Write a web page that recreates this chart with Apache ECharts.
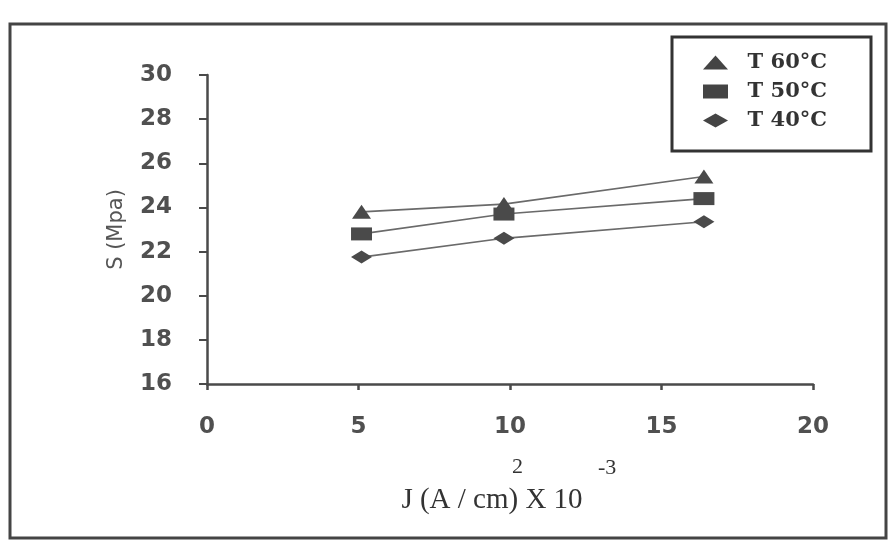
<!DOCTYPE html>
<html>
<head>
<meta charset="utf-8">
<script src="https://cdn.jsdelivr.net/npm/echarts@6/dist/echarts.min.js"></script>
<style>
  html, body { margin: 0; padding: 0; background: #fff; }
  #chart { width: 896px; height: 551px; }
</style>
</head>
<body>
<div id="chart"></div>
<script>
// data
var seriesNames = ['T 60°C', 'T 50°C', 'T 40°C'];
var currentJ = [5.1, 9.8, 16.4];
var s60 = [23.8, 24.15, 25.4];
var s50 = [22.8, 23.7, 24.4];
var s40 = [21.75, 22.6, 23.35];
var yTicks = [16, 18, 20, 22, 24, 26, 28, 30];
var xTicks = [0, 5, 10, 15, 20];

var symbols = ['triangle', 'rect', 'diamond'];
var allData = [s60, s50, s40];

function pairs(xs, ys) {
  return xs.map(function (x, i) { return [x, ys[i]]; });
}

var chart = echarts.init(document.getElementById('chart'));

var series = seriesNames.map(function (name, k) {
  return {
    name: name,
    type: 'line',
    data: pairs(currentJ, allData[k]),
    symbol: symbols[k],
    symbolSize: k === 0 ? [19, 14] : [21, 13],
    showSymbol: true,
    lineStyle: { color: '#6a6a6a', width: 1.6 },
    itemStyle: { color: '#4a4a4a' },
    emphasis: { disabled: true }
  };
});

var tickFont = {
  fontFamily: 'DejaVu Sans',
  fontWeight: 'bold',
  fontSize: 23,
  color: '#505050'
};

var option = {
  backgroundColor: '#fff',
  animation: false,
  grid: { left: 207, top: 75, right: 83, bottom: 167 },
  legend: {
    orient: 'vertical',
    left: 672,
    top: 37,
    padding: [15, 44, 20, 31],
    itemGap: 8,
    itemWidth: 25,
    itemHeight: 14,
    borderColor: '#333',
    borderWidth: 3,
    formatter: '  {name}',
    data: seriesNames.map(function (n, k) {
      return { name: n, icon: symbols[k], itemStyle: { color: '#444' } };
    }),
    textStyle: {
      fontFamily: 'DejaVu Serif',
      fontWeight: 'bold',
      fontSize: 21,
      color: '#333'
    }
  },
  xAxis: {
    type: 'value',
    min: xTicks[0],
    max: xTicks[xTicks.length - 1],
    interval: 5,
    name: 'J (A / cm) X 10',
    nameLocation: 'middle',
    nameGap: 102,
    nameTextStyle: {
      fontFamily: 'Liberation Serif',
      fontSize: 29,
      color: '#333',
      padding: [0, 36, 0, 0]
    },
    axisLine: { lineStyle: { color: '#4a4a4a', width: 2.5 } },
    axisTick: { show: true, length: 6, lineStyle: { color: '#4a4a4a', width: 2.5 } },
    axisLabel: Object.assign({ margin: 32 }, tickFont),
    splitLine: { show: false }
  },
  yAxis: {
    type: 'value',
    min: yTicks[0],
    max: yTicks[yTicks.length - 1],
    interval: 2,
    name: 'S (Mpa)',
    nameLocation: 'middle',
    nameGap: 80,
    nameTextStyle: {
      fontFamily: 'DejaVu Sans',
      fontSize: 21,
      color: '#555'
    },
    axisLine: { show: true, lineStyle: { color: '#4a4a4a', width: 2.5 } },
    axisTick: { show: true, length: 8, lineStyle: { color: '#4a4a4a', width: 2 } },
    axisLabel: Object.assign({ margin: 35 }, tickFont),
    splitLine: { show: false }
  },
  graphic: [
    {
      type: 'rect',
      shape: { x: 10, y: 24, width: 876, height: 514 },
      style: { fill: 'none', stroke: '#444', lineWidth: 3 },
      silent: true
    },
    {
      type: 'text',
      left: 512,
      top: 456,
      style: { text: '2', font: '22px "Liberation Serif"', fill: '#333' }
    },
    {
      type: 'text',
      left: 598,
      top: 457,
      style: { text: '-3', font: '22px "Liberation Serif"', fill: '#333' }
    }
  ],
  series: series
};

chart.setOption(option);
window.addEventListener('resize', function () { chart.resize(); });
</script>
</body>
</html>
